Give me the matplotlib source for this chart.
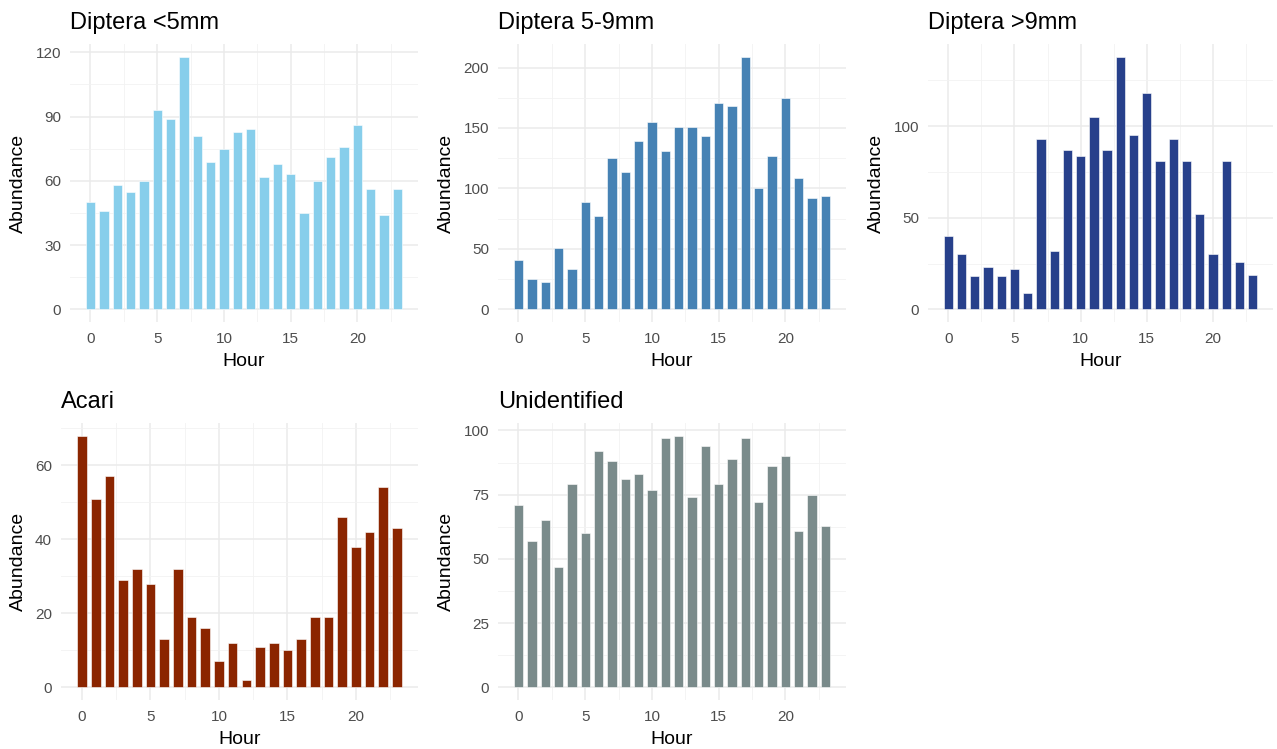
import numpy as np
import matplotlib
matplotlib.use("Agg")
import matplotlib.pyplot as plt
from matplotlib.ticker import MultipleLocator

plt.rcParams['font.family'] = ['Liberation Sans', 'DejaVu Sans']

# data
hours = list(range(24))
diptera_small = [50, 46, 58, 55, 60, 93, 89, 118, 81, 69, 75, 83,
                 84, 62, 68, 63, 45, 60, 71, 76, 86, 56, 44, 56]
diptera_mid = [41, 25, 23, 51, 33, 89, 77, 125, 114, 139, 155, 131,
               151, 151, 143, 171, 168, 209, 100, 127, 175, 109, 92, 94]
diptera_large = [40, 30, 18, 23, 18, 22, 9, 93, 32, 87, 84, 105,
                 87, 138, 95, 118, 81, 93, 81, 52, 30, 81, 26, 19]
acari = [68, 51, 57, 29, 32, 28, 13, 32, 19, 16, 7, 12,
         2, 11, 12, 10, 13, 19, 19, 46, 38, 42, 54, 43]
unidentified = [71, 57, 65, 47, 79, 60, 92, 88, 81, 83, 77, 97,
                98, 74, 94, 79, 89, 97, 72, 86, 90, 61, 75, 63]

titles = ["Diptera <5mm", "Diptera 5-9mm", "Diptera >9mm", "Acari", "Unidentified"]
series = [diptera_small, diptera_mid, diptera_large, acari, unidentified]
colors = ["#87CEEB", "#4682B4", "#27408B", "#8B2500", "#7A8B8B"]
y_steps = [30, 50, 50, 20, 25]

W, H = 1277, 749
fig = plt.figure(figsize=(W / 100, H / 100), dpi=100)

# panel boxes in pixels: left, top, right, bottom
boxes = [(70, 44, 418, 322), (498, 44, 846, 322), (928, 44, 1273, 322),
         (61, 423, 418, 700), (498, 423, 846, 700)]

for title, vals, col, step, (l, t, r, b) in zip(titles, series, colors, y_steps, boxes):
    ax = fig.add_axes([l / W, 1 - b / H, (r - l) / W, (b - t) / H])
    ax.bar(hours, vals, width=0.7, color=col, edgecolor="white", linewidth=0.4, zorder=3)

    # ggplot style expansion
    lo, hi = -0.35, 23.35
    pad = 0.05 * (hi - lo)
    ax.set_xlim(lo - pad, hi + pad)
    ymax = max(vals)
    ax.set_ylim(-0.05 * ymax, 1.05 * ymax)

    ax.xaxis.set_major_locator(MultipleLocator(5))
    ax.xaxis.set_minor_locator(MultipleLocator(2.5))
    ax.yaxis.set_major_locator(MultipleLocator(step))
    ax.yaxis.set_minor_locator(MultipleLocator(step / 2))

    ax.grid(which="major", color="#EBEBEB", linewidth=1.1, zorder=0)
    ax.grid(which="minor", color="#F2F2F2", linewidth=0.6, zorder=0)
    ax.set_axisbelow(True)
    for s in ax.spines.values():
        s.set_visible(False)
    ax.tick_params(which="both", length=0)
    ax.tick_params(axis="x", pad=7.5, labelsize=11, labelcolor="#4D4D4D")
    ax.tick_params(axis="y", pad=6.5, labelsize=11, labelcolor="#4D4D4D")

    ax.set_xlabel("Hour", fontsize=14, labelpad=5)
    ax.set_ylabel("Abundance", fontsize=14, labelpad=6)
    ax.set_title(title, loc="left", fontsize=17, pad=11)

plt.savefig("out.png", dpi=100)
